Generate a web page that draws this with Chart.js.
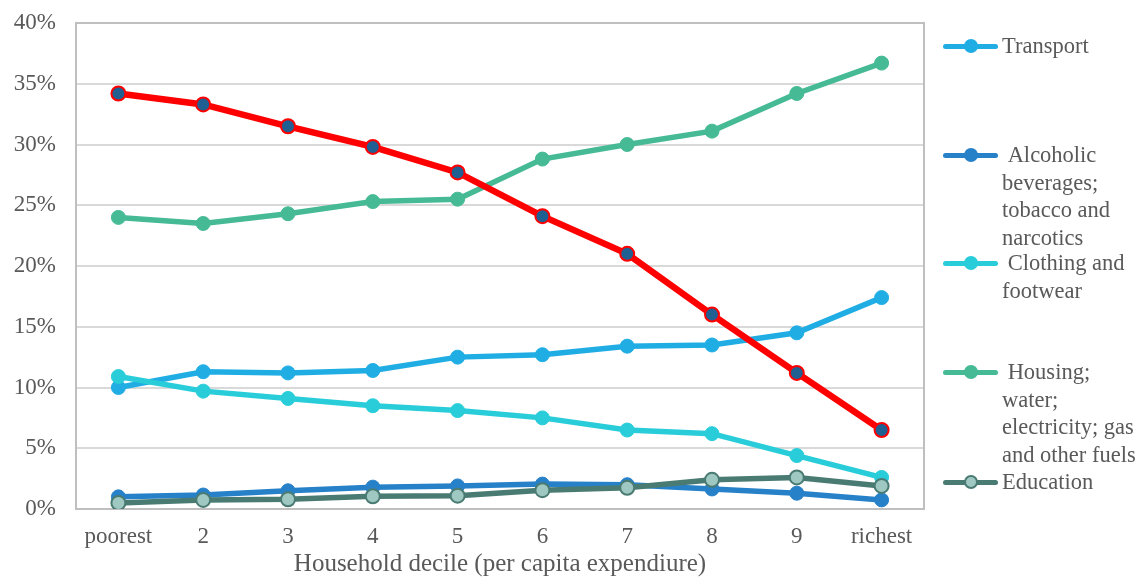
<!DOCTYPE html>
<html>
<head>
<meta charset="utf-8">
<script src="https://cdn.jsdelivr.net/npm/chart.js@4.4.1/dist/chart.umd.min.js"></script>
<style>
  body { margin: 0; background: #fff; }
  #wrap { position: relative; width: 1142px; height: 579px; }
  #legend { position: absolute; left: 0; top: 0; font-family: "Liberation Serif", serif; font-size: 22.5px; color: #595959; }
  .item { position: absolute; left: 943px; }
  .key { position: absolute; left: 0; top: 11.5px; width: 55px; height: 5px; border-radius: 3px; }
  .dot { position: absolute; left: 21px; top: 7px; width: 14px; height: 14px; border-radius: 50%; box-sizing: border-box; }
  .txt { position: absolute; left: 59px; top: 0; line-height: 27.5px; white-space: nowrap; }
</style>
</head>
<body>
<div id="wrap">
  <canvas id="lineChart" width="1142" height="579"></canvas>
  <div id="legend"></div>
</div>
<script>
// categories and values (% of household spending)
const deciles = ['poorest', '2', '3', '4', '5', '6', '7', '8', '9', 'richest'];
const xTitle = 'Household decile (per capita expendiure)';
const yTicks = [0, 5, 10, 15, 20, 25, 30, 35, 40];

const food = [34.2, 33.3, 31.5, 29.8, 27.7, 24.1, 21.0, 16.0, 11.2, 6.5];
const transport = [10.0, 11.3, 11.2, 11.4, 12.5, 12.7, 13.4, 13.5, 14.5, 17.4];
const alcohol = [1.0, 1.15, 1.5, 1.8, 1.9, 2.05, 2.0, 1.65, 1.3, 0.75];
const clothing = [10.9, 9.7, 9.1, 8.5, 8.1, 7.5, 6.5, 6.2, 4.4, 2.6];
const housing = [24.0, 23.5, 24.3, 25.3, 25.5, 28.8, 30.0, 31.1, 34.2, 36.7];
const education = [0.5, 0.75, 0.8, 1.05, 1.1, 1.55, 1.75, 2.4, 2.6, 1.9];

const legendLabels = [
  ['Transport'],
  [' Alcoholic', 'beverages;', 'tobacco and', 'narcotics'],
  [' Clothing and', 'footwear'],
  [' Housing;', 'water;', 'electricity; gas', 'and other fuels'],
  ['Education']
];

const grey = '#595959';
const tickFont = { family: 'Liberation Serif', size: 23 };
const titleFont = { family: 'Liberation Serif', size: 25 };

function series(data, color, opts) {
  return Object.assign({
    data: data,
    borderColor: color,
    backgroundColor: color,
    pointBackgroundColor: color,
    pointBorderColor: color,
    borderWidth: 5.5,
    pointRadius: 7,
    pointBorderWidth: 1,
    tension: 0
  }, opts || {});
}

const datasets = [
  series(food, '#ff0000', { label: '', pointBackgroundColor: '#1f5f91', pointBorderWidth: 2, borderWidth: 6.5, order: 0 }),
  series(transport, '#1fade4', { label: 'Transport', order: 5 }),
  series(alcohol, '#2781c9', { label: 'Alcoholic beverages; tobacco and narcotics', order: 4 }),
  series(clothing, '#29cdd9', { label: 'Clothing and footwear', order: 3 }),
  series(housing, '#45ba94', { label: 'Housing; water; electricity; gas and other fuels', order: 2 }),
  series(education, '#4a7b73', { label: 'Education', pointBackgroundColor: '#9fc8c2', pointBorderWidth: 2, order: 1 })
];

// frame around the plot area (top and right edges too)
const frame = {
  id: 'frame',
  beforeDatasetsDraw(chart) {
    const a = chart.chartArea, c = chart.ctx;
    c.save();
    c.strokeStyle = '#bfbfbf';
    c.lineWidth = 2;
    c.strokeRect(a.left, a.top, a.right - a.left, a.bottom - a.top);
    c.restore();
  }
};

new Chart(document.getElementById('lineChart').getContext('2d'), {
  type: 'line',
  data: { labels: deciles, datasets: datasets },
  plugins: [frame],
  options: {
    responsive: false,
    animation: false,
    layout: { padding: { top: 23, right: 218, left: 0, bottom: 0 } },
    plugins: { legend: { display: false }, tooltip: { enabled: false } },
    scales: {
      x: {
        offset: true,
        grid: { display: false, drawTicks: false },
        border: { color: '#bfbfbf', width: 2 },
        ticks: { color: grey, font: tickFont, padding: 14, maxRotation: 0 },
        title: { display: true, text: xTitle, color: grey, font: titleFont, padding: 0 },
        afterFit(s) { s.height = 70; }
      },
      y: {
        min: yTicks[0],
        max: yTicks[yTicks.length - 1],
        afterBuildTicks(s) { s.ticks = yTicks.map(v => ({ value: v })); },
        ticks: { color: grey, font: tickFont, padding: 20, callback: v => v + '%' },
        grid: { color: '#d9d9d9', lineWidth: 2, drawTicks: false },
        border: { display: false },
        afterFit(s) { s.width = 76; s.paddingTop = 0; s.paddingBottom = 0; }
      }
    }
  }
});

// legend (the red series has no entry in the original)
const legendTops = [32, 141, 249, 358, 468];
const legend = document.getElementById('legend');
datasets.slice(1).forEach((ds, i) => {
  const item = document.createElement('div');
  item.className = 'item';
  item.style.top = legendTops[i] + 'px';
  const key = document.createElement('div');
  key.className = 'key';
  key.style.background = ds.borderColor;
  const dot = document.createElement('div');
  dot.className = 'dot';
  dot.style.background = ds.pointBackgroundColor;
  dot.style.border = ds.pointBorderWidth > 1 ? '2px solid ' + ds.borderColor : 'none';
  const txt = document.createElement('div');
  txt.className = 'txt';
  txt.innerHTML = legendLabels[i].map(s => s.replace(/ /g, '&nbsp;')).join('<br>');
  item.appendChild(key);
  item.appendChild(dot);
  item.appendChild(txt);
  legend.appendChild(item);
});
</script>
</body>
</html>
